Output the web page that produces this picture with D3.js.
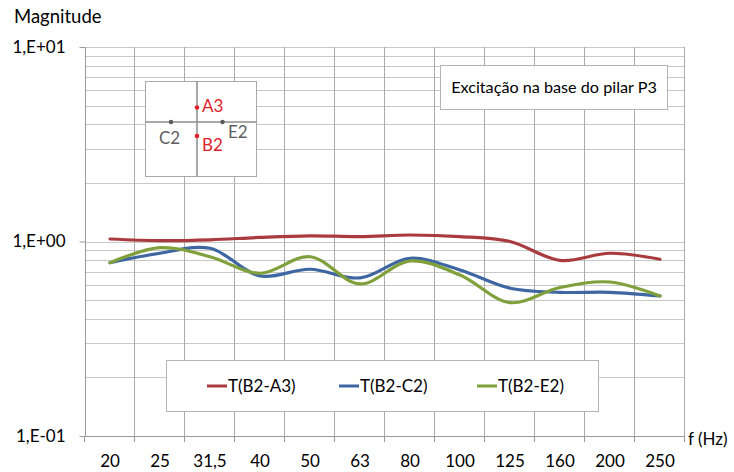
<!DOCTYPE html>
<html>
<head>
<meta charset="utf-8">
<script src="https://cdn.jsdelivr.net/npm/d3@7/dist/d3.min.js"></script>
<style>
  html, body { margin: 0; padding: 0; background: #fff; }
  svg { display: block; font-family: Lato, "Open Sans", sans-serif; }
</style>
</head>
<body>
<svg id="chart" width="734" height="472"></svg>
<script>
// Frequencies (1/3-octave bands, Hz)
const frequencies = ["20", "25", "31,5", "40", "50", "63", "80", "100", "125", "160", "200", "250"];

// Transfer function magnitudes
const tB2A3 = [1.03, 1.01, 1.02, 1.05, 1.07, 1.06, 1.08, 1.06, 1.00, 0.80, 0.87, 0.81];
const tB2C2 = [0.778, 0.87, 0.923, 0.665, 0.72, 0.65, 0.82, 0.714, 0.575, 0.548, 0.548, 0.525];
const tB2E2 = [0.778, 0.93, 0.835, 0.686, 0.835, 0.605, 0.794, 0.673, 0.485, 0.58, 0.619, 0.525];

const seriesNames = ["T(B2-A3)", "T(B2-C2)", "T(B2-E2)"];
const seriesColors = ["#A93A3D", "#3E66A2", "#7FA03B"];

const yTickValues = [0.1, 1, 10];
const yTickLabels = ["1,E-01", "1,E+00", "1,E+01"];

const svg = d3.select("#chart");
const plotLeft = 85, plotRight = 685, plotTop = 47, plotBottom = 436;
const textColor = "#000";

const x = d3.scaleBand().domain(frequencies).range([plotLeft, plotRight]).padding(0);
const y = d3.scaleLog().domain([0.1, 10]).range([plotBottom, plotTop]);
const cx = d => x(d) + x.bandwidth() / 2;

// Horizontal grid: every integer multiple within each decade
const gridValues = [];
for (let dec = 0.1; dec < 10; dec *= 10) {
  for (let k = 1; k <= 9; k++) gridValues.push(+(dec * k).toPrecision(3));
}
gridValues.push(10);

svg.append("g").selectAll("line").data(gridValues).join("line")
  .attr("x1", plotLeft).attr("x2", plotRight)
  .attr("y1", d => Math.round(y(d)) + 0.5).attr("y2", d => Math.round(y(d)) + 0.5)
  .attr("stroke", "#c8c8c8").attr("stroke-width", 1);

// Vertical grid at band boundaries
const boundaries = frequencies.map(f => x(f)).concat([plotRight]);
svg.append("g").selectAll("line").data(boundaries.slice(1)).join("line")
  .attr("x1", d => Math.round(d) - 0.5).attr("x2", d => Math.round(d) - 0.5)
  .attr("y1", plotTop).attr("y2", plotBottom)
  .attr("stroke", "#ababab").attr("stroke-width", 1);

// X axis line and ticks at band boundaries
svg.append("line")
  .attr("x1", plotLeft).attr("x2", plotRight)
  .attr("y1", plotBottom + 0.5).attr("y2", plotBottom + 0.5)
  .attr("stroke", "#9a9a9a");
svg.append("g").selectAll("line").data(boundaries).join("line")
  .attr("x1", d => Math.round(d) - 0.5).attr("x2", d => Math.round(d) - 0.5)
  .attr("y1", plotBottom).attr("y2", plotBottom + 6)
  .attr("stroke", "#9a9a9a");

// X tick labels
const xAxis = d3.axisBottom(x).tickSize(0).tickPadding(0);
const gx = svg.append("g").attr("transform", `translate(0,${plotBottom})`).call(xAxis);
gx.select(".domain").remove();
gx.selectAll("text")
  .attr("y", 31).attr("dy", 0)
  .attr("font-size", 17).attr("fill", textColor)
  .attr("font-family", "Lato, sans-serif");

// Y axis
const yAxis = d3.axisLeft(y).tickValues(yTickValues)
  .tickFormat((d, i) => yTickLabels[i]).tickSize(6).tickPadding(14);
const gy = svg.append("g").attr("transform", `translate(${plotLeft + 0.5},0)`).call(yAxis);
gy.select(".domain").attr("stroke", "#9a9a9a").attr("d", `M0,${plotTop}V${plotBottom}`);
gy.selectAll(".tick line").attr("stroke", "#9a9a9a");
gy.selectAll(".tick text")
  .attr("font-size", 17).attr("fill", textColor)
  .attr("font-family", "Lato, sans-serif");

// Axis titles
svg.append("text").attr("x", 14).attr("y", 23)
  .attr("font-size", 18.5).attr("fill", textColor).text("Magnitude");
svg.append("text").attr("x", 688).attr("y", 445)
  .attr("font-size", 17).attr("fill", textColor).text("f (Hz)");

// Series lines
const line = d3.line()
  .x((d, i) => cx(frequencies[i]))
  .y(d => y(d))
  .curve(d3.curveCatmullRom.alpha(0.5));

[tB2A3, tB2C2, tB2E2].forEach((vals, i) => {
  svg.append("path").datum(vals)
    .attr("d", line)
    .attr("fill", "none")
    .attr("stroke", seriesColors[i])
    .attr("stroke-width", 3.2)
    .attr("stroke-linecap", "round");
});

// Annotation box
svg.append("rect").attr("x", 440.5).attr("y", 65.5).attr("width", 227).attr("height", 44)
  .attr("fill", "#fff").attr("stroke", "#b4b4b4");
svg.append("text").attr("x", 554).attr("y", 93).attr("text-anchor", "middle")
  .attr("font-size", 16.2).attr("fill", textColor).text("Excitação na base do pilar P3");

// Sensor layout inset
const inset = svg.append("g");
inset.append("rect").attr("x", 145.5).attr("y", 81.5).attr("width", 111).attr("height", 95)
  .attr("fill", "#fff").attr("stroke", "#a8a8a8");
inset.append("line").attr("x1", 197).attr("x2", 197).attr("y1", 81.5).attr("y2", 176.5)
  .attr("stroke", "#8c8c8c").attr("stroke-width", 1.5);
inset.append("line").attr("x1", 145.5).attr("x2", 256.5).attr("y1", 122).attr("y2", 122)
  .attr("stroke", "#8c8c8c").attr("stroke-width", 1.5);
inset.append("circle").attr("cx", 171).attr("cy", 122).attr("r", 2.2).attr("fill", "#5a5a5a");
inset.append("circle").attr("cx", 222.5).attr("cy", 122).attr("r", 2.2).attr("fill", "#5a5a5a");
inset.append("circle").attr("cx", 197).attr("cy", 107.5).attr("r", 2.3).attr("fill", "#e0202a");
inset.append("circle").attr("cx", 197).attr("cy", 136).attr("r", 2.3).attr("fill", "#e0202a");
inset.append("text").attr("x", 202).attr("y", 112).attr("font-size", 17).attr("fill", "#e0202a").text("A3");
inset.append("text").attr("x", 202).attr("y", 151).attr("font-size", 17).attr("fill", "#e0202a").text("B2");
inset.append("text").attr("x", 159).attr("y", 144).attr("font-size", 17).attr("fill", "#5f5f5f").text("C2");
inset.append("text").attr("x", 228).attr("y", 138).attr("font-size", 17).attr("fill", "#5f5f5f").text("E2");

// Legend
svg.append("rect").attr("x", 166.5).attr("y", 360.5).attr("width", 432).attr("height", 51)
  .attr("fill", "#fff").attr("stroke", "#b4b4b4");
const legendX = [207, 339, 477];
seriesNames.forEach((name, i) => {
  const g = svg.append("g").attr("transform", `translate(${legendX[i]},386)`);
  g.append("line").attr("x1", 0).attr("x2", 20).attr("y1", 0).attr("y2", 0)
    .attr("stroke", seriesColors[i]).attr("stroke-width", 3);
  g.append("text").attr("x", 21).attr("y", 6).attr("font-size", 17).attr("fill", textColor).text(name);
});
</script>
</body>
</html>
